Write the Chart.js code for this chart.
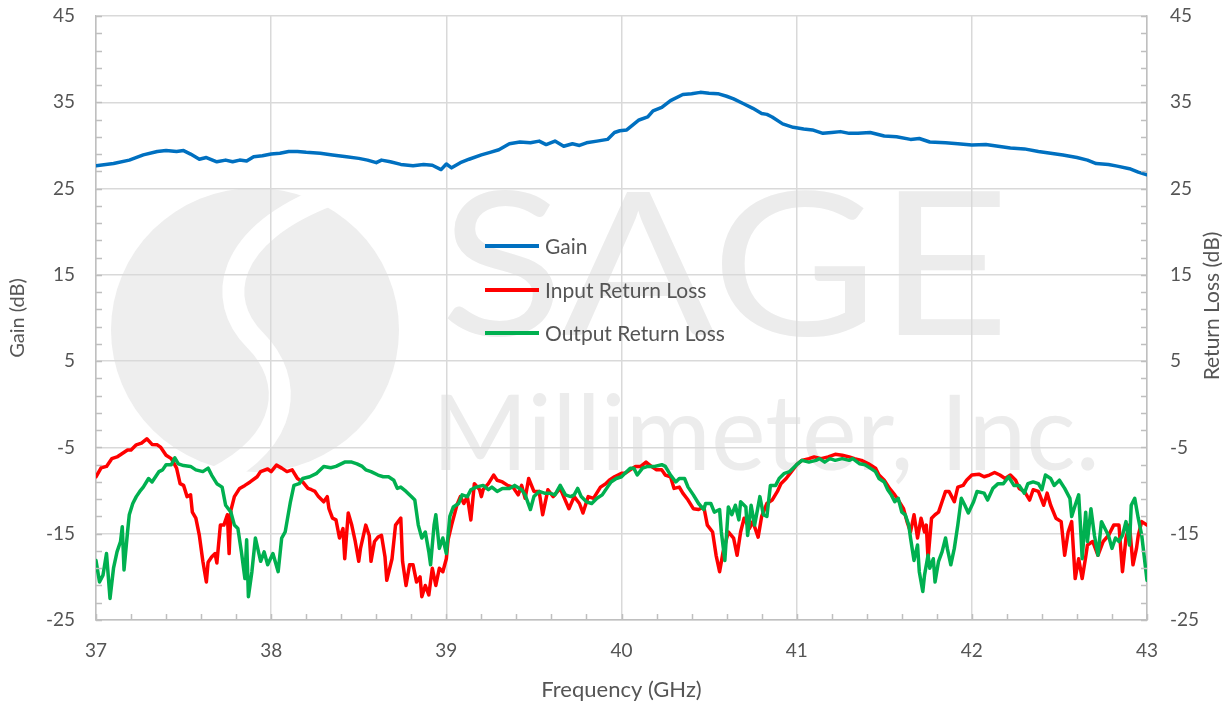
<!DOCTYPE html>
<html>
<head>
<meta charset="utf-8">
<script src="https://cdn.jsdelivr.net/npm/chart.js@4/dist/chart.umd.min.js"></script>
<style>
  html, body { margin: 0; padding: 0; background: #fff; }
  #wrap { width: 1231px; height: 704px; }
</style>
</head>
<body>
<div id="wrap"><canvas id="chart" width="1231" height="704"></canvas></div>
<script>
// Gain curve (GHz, dB)
const gainFreq = [37.00,37.10,37.19,37.27,37.35,37.40,37.46,37.50,37.54,37.59,37.63,37.69,37.74,37.78,37.82,37.86,37.90,37.95,38.00,38.05,38.10,38.15,38.20,38.28,38.35,38.43,38.50,38.55,38.60,38.63,38.68,38.74,38.81,38.87,38.92,38.97,39.00,39.03,39.08,39.13,39.20,39.25,39.30,39.36,39.42,39.48,39.53,39.57,39.62,39.67,39.72,39.76,39.80,39.86,39.92,39.96,39.99,40.03,40.10,40.15,40.18,40.23,40.28,40.35,40.40,40.45,40.50,40.55,40.60,40.64,40.70,40.75,40.80,40.83,40.86,40.92,40.98,41.04,41.09,41.15,41.20,41.25,41.30,41.35,41.42,41.50,41.57,41.65,41.70,41.76,41.85,41.92,42.00,42.08,42.15,42.22,42.30,42.38,42.45,42.52,42.60,42.66,42.71,42.78,42.83,42.90,42.95,43.00];
const gainDb = [27.65,27.9,28.3,28.9,29.3,29.4,29.3,29.4,29.0,28.4,28.6,28.1,28.3,28.1,28.3,28.2,28.7,28.8,29.0,29.1,29.3,29.3,29.2,29.1,28.9,28.7,28.5,28.3,28.0,28.3,28.1,27.8,27.65,27.8,27.7,27.2,27.85,27.4,28.0,28.4,28.9,29.2,29.5,30.2,30.4,30.3,30.5,30.1,30.5,29.9,30.2,30.0,30.3,30.5,30.7,31.5,31.7,31.8,32.95,33.3,34.0,34.4,35.2,35.9,36.0,36.15,36.05,36.0,35.7,35.4,34.8,34.3,33.7,33.6,33.3,32.5,32.1,31.9,31.8,31.4,31.5,31.6,31.4,31.4,31.5,31.1,31.0,30.7,30.8,30.4,30.3,30.2,30.05,30.1,29.9,29.7,29.6,29.3,29.1,28.9,28.6,28.3,27.9,27.8,27.6,27.3,26.9,26.6];

// Input return loss
const inFreq = [37.00,37.03,37.06,37.09,37.12,37.15,37.18,37.20,37.23,37.26,37.29,37.32,37.35,37.37,37.40,37.43,37.46,37.48,37.50,37.52,37.54,37.55,37.57,37.59,37.61,37.63,37.64,37.66,37.68,37.69,37.71,37.73,37.75,37.76,37.77,37.79,37.82,37.85,37.88,37.92,37.94,37.98,38.00,38.03,38.06,38.09,38.12,38.15,38.18,38.21,38.23,38.25,38.27,38.30,38.32,38.33,38.35,38.37,38.39,38.41,38.42,38.44,38.46,38.48,38.50,38.51,38.54,38.56,38.57,38.59,38.61,38.63,38.65,38.66,38.69,38.71,38.74,38.75,38.77,38.79,38.81,38.83,38.85,38.86,38.88,38.90,38.92,38.94,38.96,38.98,39.00,39.01,39.03,39.06,39.08,39.10,39.12,39.14,39.16,39.19,39.20,39.21,39.24,39.27,39.29,39.32,39.35,39.38,39.41,39.43,39.45,39.47,39.50,39.53,39.55,39.58,39.61,39.65,39.67,39.70,39.73,39.76,39.78,39.81,39.84,39.88,39.91,39.93,39.96,40.00,40.02,40.05,40.08,40.11,40.14,40.17,40.20,40.23,40.25,40.28,40.30,40.33,40.35,40.38,40.41,40.44,40.47,40.49,40.52,40.54,40.56,40.58,40.61,40.64,40.66,40.68,40.70,40.73,40.75,40.78,40.80,40.83,40.86,40.89,40.91,40.94,40.97,41.00,41.03,41.07,41.10,41.14,41.18,41.22,41.26,41.30,41.33,41.37,41.41,41.45,41.47,41.50,41.53,41.56,41.58,41.61,41.63,41.65,41.67,41.69,41.71,41.73,41.74,41.75,41.77,41.79,41.81,41.83,41.85,41.87,41.88,41.90,41.92,41.95,41.97,42.00,42.04,42.07,42.10,42.13,42.16,42.19,42.22,42.25,42.27,42.30,42.33,42.35,42.38,42.41,42.43,42.45,42.48,42.51,42.53,42.55,42.57,42.59,42.61,42.63,42.65,42.66,42.69,42.72,42.75,42.78,42.81,42.84,42.86,42.88,42.90,42.92,42.94,42.95,42.97,43.00];
const inDb = [-8.4,-7.35,-7.2,-6.3,-6.1,-5.7,-5.3,-5.3,-4.7,-4.5,-4.0,-4.65,-4.7,-5.0,-5.9,-6.3,-7.4,-9.2,-9.4,-10.7,-10.5,-12.5,-13.2,-15.2,-18.2,-20.6,-18.3,-17.7,-17.3,-18.4,-14.0,-14.0,-12.8,-17.3,-12.3,-10.7,-9.75,-9.4,-9.0,-8.4,-7.8,-7.5,-7.8,-7.05,-7.4,-7.8,-7.6,-8.6,-9.0,-9.75,-9.9,-10.1,-10.7,-11.3,-10.7,-12.1,-13.2,-13.4,-15.5,-14.4,-17.9,-12.6,-14.0,-15.9,-18.2,-16.7,-14.0,-15.2,-18.2,-15.9,-15.4,-15.2,-17.7,-20.4,-17.9,-14.0,-13.2,-18.2,-21.0,-18.6,-18.6,-20.6,-20.0,-22.3,-21.0,-22.1,-19.0,-21.0,-19.0,-19.4,-17.9,-15.7,-14.0,-11.7,-10.7,-11.5,-10.7,-13.4,-9.2,-9.9,-10.7,-9.9,-9.2,-8.2,-8.8,-9.0,-9.4,-9.6,-10.5,-9.4,-10.9,-8.6,-10.1,-10.1,-12.8,-9.9,-10.7,-9.75,-10.7,-12.1,-10.7,-11.5,-12.6,-10.7,-10.9,-9.6,-9.2,-8.8,-8.4,-8.0,-8.0,-7.6,-7.2,-7.2,-6.7,-7.2,-7.6,-7.6,-8.2,-8.4,-9.75,-9.6,-10.3,-11.1,-12.1,-12.2,-11.9,-14.0,-14.8,-17.5,-19.4,-17.1,-14.8,-15.5,-17.5,-14.8,-13.2,-14.4,-13.6,-15.4,-13.0,-11.5,-11.1,-10.1,-9.2,-8.6,-7.8,-7.0,-6.5,-6.3,-6.1,-6.3,-6.1,-5.8,-5.9,-6.1,-6.3,-6.5,-6.9,-7.4,-8.2,-8.8,-9.75,-10.5,-11.1,-12.1,-13.6,-14.8,-12.8,-15.5,-13.2,-14.8,-14.0,-17.9,-13.2,-12.8,-12.5,-11.3,-10.1,-10.1,-10.5,-11.3,-9.6,-9.4,-8.8,-8.2,-8.1,-8.4,-8.2,-7.9,-8.2,-8.6,-8.2,-8.8,-9.75,-10.1,-11.1,-9.9,-10.1,-11.7,-10.3,-11.7,-13.2,-13.6,-17.5,-14.8,-13.6,-20.2,-17.9,-20.2,-17.7,-16.3,-15.9,-17.5,-15.9,-15.2,-14.0,-14.0,-19.4,-15.5,-14.0,-18.6,-16.7,-15.2,-13.6,-14.0];

// Output return loss
const outFreq = [37.00,37.02,37.04,37.06,37.08,37.10,37.12,37.14,37.15,37.16,37.18,37.19,37.21,37.23,37.25,37.27,37.30,37.32,37.36,37.38,37.40,37.43,37.45,37.47,37.50,37.54,37.57,37.61,37.64,37.66,37.69,37.72,37.74,37.77,37.79,37.81,37.83,37.85,37.86,37.87,37.89,37.91,37.94,37.96,37.98,38.01,38.04,38.06,38.08,38.11,38.13,38.16,38.18,38.22,38.26,38.30,38.34,38.37,38.42,38.46,38.49,38.52,38.54,38.57,38.61,38.64,38.67,38.70,38.72,38.74,38.77,38.80,38.82,38.84,38.86,38.88,38.90,38.91,38.93,38.94,38.96,38.98,39.00,39.02,39.04,39.07,39.09,39.12,39.14,39.17,39.21,39.24,39.26,39.29,39.32,39.36,39.39,39.43,39.45,39.48,39.50,39.53,39.56,39.59,39.62,39.65,39.68,39.71,39.73,39.75,39.77,39.80,39.83,39.86,39.89,39.92,39.94,39.97,40.00,40.02,40.05,40.07,40.09,40.12,40.15,40.19,40.23,40.25,40.28,40.31,40.33,40.36,40.38,40.41,40.44,40.47,40.48,40.51,40.53,40.56,40.57,40.59,40.61,40.63,40.65,40.67,40.68,40.71,40.72,40.74,40.76,40.79,40.81,40.83,40.85,40.88,40.90,40.93,40.96,41.00,41.03,41.07,41.11,41.13,41.16,41.19,41.22,41.26,41.30,41.32,41.36,41.39,41.42,41.45,41.47,41.50,41.52,41.54,41.56,41.58,41.60,41.62,41.64,41.65,41.67,41.69,41.70,41.72,41.73,41.75,41.76,41.78,41.79,41.81,41.83,41.85,41.86,41.88,41.90,41.92,41.94,41.96,41.98,42.01,42.03,42.07,42.09,42.12,42.15,42.18,42.21,42.24,42.27,42.30,42.32,42.35,42.38,42.40,42.42,42.45,42.47,42.50,42.53,42.56,42.57,42.59,42.61,42.62,42.63,42.65,42.66,42.68,42.70,42.72,42.74,42.76,42.78,42.80,42.82,42.84,42.86,42.88,42.90,42.91,42.93,42.95,42.97,43.00];
const outDb = [-18.1,-20.6,-19.8,-17.3,-22.5,-19.0,-17.1,-15.9,-14.2,-19.2,-14.8,-12.8,-11.5,-10.7,-10.1,-9.6,-8.6,-9.0,-7.8,-7.6,-7.0,-7.0,-6.2,-6.9,-7.1,-7.2,-7.6,-7.8,-7.4,-8.2,-9.2,-9.6,-11.7,-12.5,-14.0,-14.4,-17.1,-20.2,-15.7,-22.3,-19.4,-15.5,-18.2,-17.1,-18.6,-17.3,-19.4,-15.5,-14.8,-11.3,-9.4,-9.2,-8.6,-8.4,-8.0,-7.2,-7.35,-7.2,-6.7,-6.7,-6.9,-7.2,-7.6,-7.8,-8.2,-8.4,-8.4,-8.8,-9.75,-9.6,-10.1,-10.7,-11.1,-14.0,-15.5,-14.8,-17.1,-18.6,-14.0,-12.8,-16.7,-15.5,-17.3,-13.0,-11.9,-11.5,-10.5,-10.7,-9.9,-9.6,-9.4,-9.9,-9.6,-10.1,-9.75,-9.75,-9.4,-9.9,-10.5,-12.2,-10.7,-10.1,-10.3,-10.3,-10.5,-9.4,-10.5,-10.7,-10.5,-9.75,-10.7,-11.3,-11.5,-10.9,-10.5,-9.6,-9.0,-8.6,-8.4,-8.0,-7.4,-7.4,-8.2,-7.4,-7.2,-7.2,-7.0,-7.2,-8.2,-9.0,-8.6,-8.6,-9.6,-10.5,-11.5,-12.2,-11.5,-11.5,-12.5,-12.2,-14.8,-18.1,-11.9,-12.8,-11.7,-13.4,-11.3,-11.9,-15.2,-11.7,-14.0,-10.7,-12.8,-13.0,-9.4,-9.4,-8.6,-8.0,-7.8,-7.0,-6.5,-6.7,-6.5,-6.3,-6.7,-6.3,-6.5,-6.3,-6.5,-6.3,-6.9,-7.0,-7.4,-7.8,-8.6,-9.0,-9.9,-10.5,-11.3,-10.9,-12.5,-12.8,-14.0,-15.5,-18.1,-16.3,-19.4,-21.7,-19.8,-17.5,-19.0,-17.9,-20.6,-18.2,-17.1,-15.5,-16.7,-18.6,-16.7,-14.0,-10.9,-11.7,-12.6,-11.3,-10.1,-10.3,-11.1,-9.75,-9.2,-9.2,-8.4,-9.4,-9.4,-10.3,-9.2,-9.0,-9.2,-9.9,-8.2,-8.6,-9.4,-8.8,-9.75,-10.9,-13.0,-11.7,-10.5,-14.0,-17.9,-12.5,-15.9,-12.1,-15.2,-17.5,-13.6,-14.4,-15.2,-16.7,-15.5,-15.9,-15.2,-13.6,-16.3,-11.7,-10.9,-13.2,-15.2,-20.4];

const seriesNames = ['Gain', 'Input Return Loss', 'Output Return Loss'];
const seriesColors = ['#0070c0', '#ff0000', '#00b050'];

const textCol = '#555555';
const gridCol = '#d9d9d9';
const axisCol = '#bfbfbf';
const fontFam = 'Lato, "Open Sans", sans-serif';

function pairs(xs, ys) {
	return xs.map((x, i) => ({ x: x, y: ys[i] }));
}

// fixed box sizes so the plot area sits where the original does
function fixVertical(width) {
	return s => {
		s.width = width;
		s.paddingTop = 0;
		s.paddingBottom = 0;
	};
}

// logo and company name drawn faintly behind the plot
const watermark = {
	id: 'watermark',
	beforeDraw(chart) {
		const ctx = chart.ctx;
		ctx.save();
		ctx.fillStyle = '#ffffff';
		ctx.fillRect(0, 0, chart.width, chart.height);
		ctx.fillStyle = '#eeeeee';
		ctx.beginPath();
		ctx.ellipse(255, 330, 144, 142, 0, 0, Math.PI * 2);
		ctx.fill();
		ctx.strokeStyle = '#ffffff';
		ctx.lineWidth = 22;
		ctx.beginPath();
		ctx.moveTo(330, 195);
		ctx.bezierCurveTo(225, 235, 215, 300, 255, 340);
		ctx.bezierCurveTo(295, 380, 290, 440, 215, 478);
		ctx.stroke();
		ctx.fillStyle = '#ececec';
		ctx.textBaseline = 'alphabetic';
		ctx.font = '200px ' + fontFam;
		let w = ctx.measureText('SAGE').width;
		ctx.save();
		ctx.translate(440, 335);
		ctx.scale(570 / w, 1);
		ctx.fillText('SAGE', 0, 0);
		ctx.restore();
		ctx.font = '104px ' + fontFam;
		w = ctx.measureText('Millimeter, Inc.').width;
		ctx.save();
		ctx.translate(432, 470);
		ctx.scale(668 / w, 1);
		ctx.fillText('Millimeter, Inc.', 0, 0);
		ctx.restore();
		ctx.restore();
	}
};

// minor tick marks, legend, right-hand axis title
const extras = {
	id: 'extras',
	afterDraw(chart) {
		const ctx = chart.ctx;
		const a = chart.chartArea;
		const xs = chart.scales.x, ys = chart.scales.y;
		ctx.save();
		ctx.strokeStyle = axisCol;
		ctx.lineWidth = 1.5;
		ctx.beginPath();
		for (let i = 0; i <= 30; i++) {
			const px = Math.round(xs.getPixelForValue(37 + i * 0.2)) + 0.5;
			ctx.moveTo(px, a.bottom);
			ctx.lineTo(px, a.bottom - 6);
		}
		for (let i = 0; i <= 35; i++) {
			const py = Math.round(ys.getPixelForValue(-25 + i * 2)) + 0.5;
			ctx.moveTo(a.left, py);
			ctx.lineTo(a.left + 6, py);
			ctx.moveTo(a.right, py);
			ctx.lineTo(a.right - 6, py);
		}
		ctx.stroke();

		// legend
		const rows = [246, 290, 333];
		ctx.font = '21px ' + fontFam;
		ctx.textBaseline = 'middle';
		ctx.fillStyle = textCol;
		ctx.lineWidth = 4;
		seriesNames.forEach((name, i) => {
			ctx.strokeStyle = seriesColors[i];
			ctx.beginPath();
			ctx.moveTo(485, rows[i]);
			ctx.lineTo(539, rows[i]);
			ctx.stroke();
			ctx.fillText(name, 545, rows[i] + 1);
		});

		// right axis title reads bottom to top
		ctx.translate(1212, 306);
		ctx.rotate(-Math.PI / 2);
		ctx.textAlign = 'center';
		ctx.font = '21px ' + fontFam;
		ctx.fillText('Return Loss (dB)', 0, 0);
		ctx.restore();
	}
};

new Chart(document.getElementById('chart'), {
	type: 'line',
	data: {
		datasets: [
			{ label: seriesNames[0], data: pairs(gainFreq, gainDb), borderColor: seriesColors[0], yAxisID: 'y', order: 0 },
			{ label: seriesNames[1], data: pairs(inFreq, inDb), borderColor: seriesColors[1], yAxisID: 'y2', order: 2 },
			{ label: seriesNames[2], data: pairs(outFreq, outDb), borderColor: seriesColors[2], yAxisID: 'y2', order: 1 }
		]
	},
	options: {
		responsive: false,
		animation: false,
		layout: { padding: { top: 16, left: 0, right: 0, bottom: 0 } },
		elements: {
			point: { radius: 0 },
			line: { borderWidth: 3.5, tension: 0, borderJoinStyle: 'round', borderCapStyle: 'round' }
		},
		plugins: {
			legend: { display: false },
			tooltip: { enabled: false }
		},
		scales: {
			x: {
				type: 'linear',
				min: 37,
				max: 43,
				ticks: { stepSize: 1, color: textCol, padding: 19, font: { family: fontFam, size: 19 } },
				grid: { color: gridCol, lineWidth: 1.5, drawTicks: false },
				border: { color: axisCol, width: 1.5 },
				title: { display: true, text: 'Frequency (GHz)', color: textCol, font: { family: fontFam, size: 22 }, padding: { top: 0, bottom: 1 } },
				afterFit(s) {
					s.height = 84;
					s.paddingLeft = 0;
					s.paddingRight = 0;
				}
			},
			y: {
				position: 'left',
				min: -25,
				max: 45,
				ticks: { stepSize: 10, color: textCol, padding: 21, font: { family: fontFam, size: 19 } },
				grid: { color: gridCol, lineWidth: 1.5, drawTicks: false },
				border: { color: axisCol, width: 1.5 },
				title: { display: true, text: 'Gain (dB)', color: textCol, font: { family: fontFam, size: 20 }, padding: { top: 6, bottom: 0 } },
				afterFit: fixVertical(96)
			},
			y2: {
				position: 'right',
				min: -25,
				max: 45,
				ticks: { stepSize: 10, color: textCol, padding: 23, font: { family: fontFam, size: 19 } },
				grid: { drawOnChartArea: false, drawTicks: false },
				border: { color: axisCol, width: 1.5 },
				afterFit: fixVertical(84)
			}
		}
	},
	plugins: [watermark, extras]
});
</script>
</body>
</html>
